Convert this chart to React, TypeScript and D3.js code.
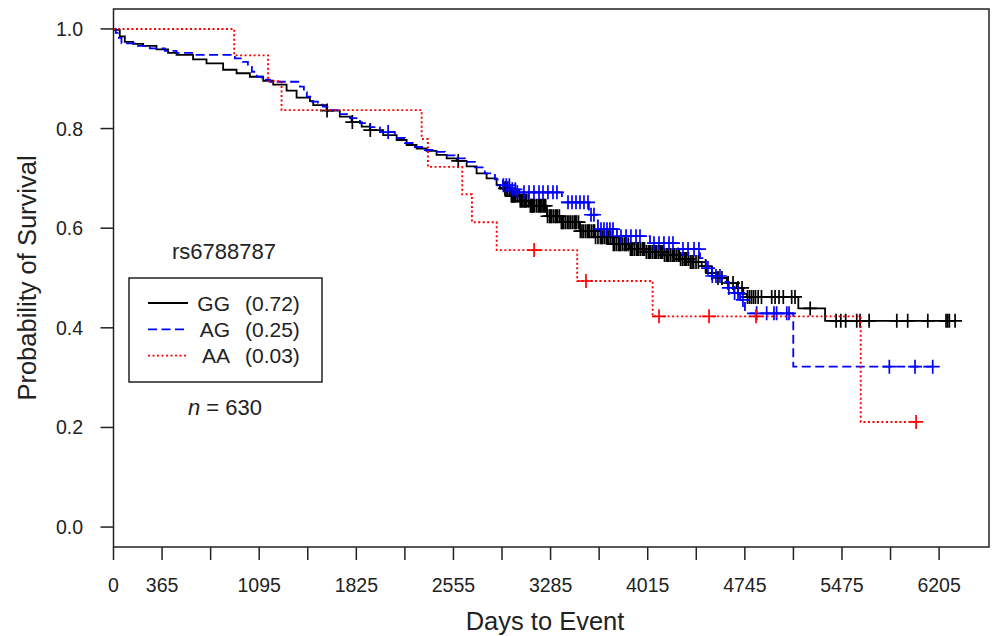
import React from 'react';
import * as d3 from 'd3';

const groups = ['GG', 'AG', 'AA'];
const freqs = ['(0.72)', '(0.25)', '(0.03)'];
const snpName = 'rs6788787';
const sampleSize = 630;

const yTicks = [0, 0.2, 0.4, 0.6, 0.8, 1.0];
const xTicks = [0, 365, 730, 1095, 1460, 1825, 2190, 2555, 2920, 3285, 3650, 4015, 4380, 4745, 5110, 5475, 5840, 6205];
const xTickLabels = [0, 365, 1095, 1825, 2555, 3285, 4015, 4745, 5475, 6205];

// [days, survival] after each drop
const ggSteps: [number, number][] = [
  [0, 1], [10, 0.998], [47, 0.985], [85, 0.974], [147, 0.970], [223, 0.966], [323, 0.959], [410, 0.952],
  [474, 0.948], [598, 0.939], [699, 0.931], [824, 0.918], [925, 0.911], [1025, 0.904], [1125, 0.896],
  [1200, 0.888], [1301, 0.876], [1376, 0.862], [1476, 0.855], [1501, 0.847], [1601, 0.836], [1701, 0.824],
  [1789, 0.813], [1865, 0.804], [1927, 0.797], [2027, 0.787], [2128, 0.777], [2203, 0.767], [2278, 0.760],
  [2353, 0.755], [2428, 0.747], [2504, 0.740], [2579, 0.735], [2654, 0.724], [2729, 0.710], [2804, 0.700],
  [2879, 0.687], [2904, 0.680], [2979, 0.665], [3055, 0.655], [3130, 0.645], [3258, 0.624], [3355, 0.612],
  [3506, 0.594], [3618, 0.582], [3754, 0.568], [3882, 0.558], [3994, 0.552], [4130, 0.546], [4258, 0.538],
  [4333, 0.532], [4421, 0.524], [4458, 0.510], [4533, 0.500], [4609, 0.490], [4684, 0.480], [4733, 0.468],
  [4761, 0.462], [5147, 0.439], [5348, 0.414],
];
const ggCensor = [
  1605, 1795, 1930, 2591,
  2942, 2950, 2961, 2975, 2990, 2997, 3004, 3013, 3021, 3035, 3049, 3057, 3066, 3077, 3088, 3096, 3104, 3118,
  3133, 3140, 3147, 3155, 3163, 3178, 3192, 3201, 3210, 3220, 3231, 3240, 3248, 3262, 3277, 3284, 3291, 3305,
  3320, 3328, 3337, 3351, 3366, 3374, 3382, 3396, 3411, 3423, 3436, 3450, 3464, 3472, 3480, 3495, 3509, 3521,
  3533, 3548, 3562, 3570, 3578, 3593, 3607, 3615, 3623, 3641, 3659, 3667, 3676, 3690, 3704, 3713, 3721, 3735,
  3749, 3757, 3766, 3780, 3795, 3803, 3811, 3825, 3840, 3848, 3856, 3870, 3885, 3893, 3901, 3915, 3930, 3938,
  3946, 3960, 3975, 3983, 3991, 4005, 4020, 4028, 4036, 4050, 4065, 4073, 4082, 4096, 4110, 4118, 4127, 4141,
  4155, 4163, 4172, 4186, 4200, 4208, 4217, 4231, 4245, 4253, 4262, 4276, 4290, 4298, 4307, 4321, 4336, 4348,
  4360, 4378, 4396,
  4450, 4498, 4543, 4573, 4619, 4656, 4694, 4724, 4765, 4780, 4795, 4810, 4825, 4845, 4870, 4947, 4972, 5002,
  5034, 5097, 5122, 5236, 5431, 5466, 5503, 5586, 5611, 5679, 5887, 5969, 6120, 6257, 6270, 6282, 6325,
];

const agSteps: [number, number][] = [
  [0, 1], [17, 0.992], [40, 0.982], [60, 0.971], [160, 0.966], [273, 0.961], [386, 0.956], [474, 0.952],
  [611, 0.948], [912, 0.941], [972, 0.934], [1010, 0.924], [1040, 0.914], [1077, 0.904], [1115, 0.898],
  [1175, 0.894], [1401, 0.884], [1431, 0.873], [1453, 0.864], [1491, 0.854], [1536, 0.848], [1573, 0.844],
  [1626, 0.837], [1701, 0.829], [1777, 0.821], [1852, 0.811], [1927, 0.803], [2002, 0.793], [2115, 0.781],
  [2190, 0.771], [2265, 0.763], [2340, 0.757], [2416, 0.753], [2491, 0.746], [2566, 0.740], [2641, 0.733],
  [2716, 0.722], [2791, 0.710], [2867, 0.698], [2927, 0.686], [2979, 0.678], [3032, 0.672], [3370, 0.652],
  [3573, 0.627], [3641, 0.598], [3784, 0.584], [4032, 0.570], [4243, 0.558], [4408, 0.540], [4453, 0.520],
  [4498, 0.504], [4573, 0.492], [4619, 0.480], [4664, 0.470], [4709, 0.456], [4746, 0.429], [5109, 0.322],
];
const agCensor = [
  2064, 2930, 2952, 2975, 2997, 3020, 3035, 3085, 3123, 3160, 3198, 3228, 3265, 3303, 3333, 3416, 3446, 3476,
  3506, 3536, 3566, 3589, 3611, 3664, 3686, 3709, 3731, 3754, 3814, 3852, 3889, 3927, 3957, 4062, 4100, 4137,
  4175, 4205, 4280, 4318, 4363, 4400, 4468, 4500, 4528, 4558, 4625, 4668, 4694, 4731, 4834, 4909, 4964, 4984,
  5060, 5077, 5831, 6024, 6157,
];

const aaSteps: [number, number][] = [
  [0, 1], [907, 0.947], [1162, 0.895], [1263, 0.837], [2316, 0.779], [2363, 0.723], [2621, 0.668],
  [2694, 0.612], [2880, 0.556], [3485, 0.494], [4052, 0.423], [5616, 0.211],
];
const aaCensor = [3161, 3551, 4100, 4476, 4829, 6032];

const W = 992;
const H = 636;
const left = 113.5;
const right = 989;
const top = 9;
const bottom = 547;

const x = d3.scaleLinear().domain([0, 6580]).range([left, right]);
const y = d3.scaleLinear().domain([-0.04, 1.04]).range([bottom, top]);

const FONT = '"Liberation Sans", Arial, Helvetica, sans-serif';

const series = [
  { steps: ggSteps, censor: ggCensor, color: '#000000', dash: undefined as string | undefined, width: 1.8 },
  { steps: agSteps, censor: agCensor, color: '#0000ff', dash: '9,4.5', width: 1.8 },
  { steps: aaSteps, censor: aaCensor, color: '#ff0000', dash: '2,2.5', width: 1.9 },
];

function survAt(steps: [number, number][], t: number) {
  let s = 1;
  for (const [tt, v] of steps) if (tt <= t) s = v;
  return s;
}

const line = d3
  .line<[number, number]>()
  .x((d) => x(d[0]))
  .y((d) => y(d[1]))
  .curve(d3.curveStepAfter);

export default function App() {
  const arm = 7;
  return (
    <svg width={W} height={H} style={{ position: 'absolute', left: 0, top: 0, background: '#fff' }} fontFamily={FONT}>
      <rect x={0} y={0} width={W} height={H} fill="#fff" />
      {series.map((s, i) => {
        const end = Math.max(...s.censor);
        const last = s.steps[s.steps.length - 1][1];
        const pts: [number, number][] = [...s.steps, [end, last]];
        return (
          <g key={i}>
            <path d={line(pts) || ''} fill="none" stroke={s.color} strokeWidth={s.width} strokeDasharray={s.dash} />
            {s.censor.map((t, j) => {
              const cx = x(t);
              const cy = y(survAt(s.steps, t));
              return (
                <path
                  key={j}
                  d={`M${cx - arm},${cy}H${cx + arm}M${cx},${cy - arm}V${cy + arm}`}
                  stroke={s.color}
                  strokeWidth={1.7}
                  fill="none"
                />
              );
            })}
          </g>
        );
      })}
      {/* box */}
      <rect x={left} y={top} width={right - left} height={bottom - top} fill="none" stroke="#222" strokeWidth={1.5} />
      {/* y axis */}
      {yTicks.map((v) => (
        <g key={v}>
          <line x1={left - 13} x2={left} y1={y(v)} y2={y(v)} stroke="#222" strokeWidth={1.5} />
          <text x={83} y={y(v)} dy="0.36em" textAnchor="end" fontSize={19.5} fill="#222">
            {v.toFixed(1)}
          </text>
        </g>
      ))}
      {/* x axis */}
      {xTicks.map((v) => (
        <line key={v} x1={x(v)} x2={x(v)} y1={bottom} y2={bottom + 13} stroke="#222" strokeWidth={1.5} />
      ))}
      {xTickLabels.map((v) => (
        <text key={v} x={x(v)} y={592} textAnchor="middle" fontSize={19.5} fill="#222">
          {v}
        </text>
      ))}
      <text x={545} y={630} textAnchor="middle" fontSize={25.5} fill="#222">
        Days to Event
      </text>
      <text
        transform={`translate(27,${(top + bottom) / 2}) rotate(-90)`}
        textAnchor="middle"
        dominantBaseline="central"
        fontSize={25.5}
        fill="#222"
      >
        Probability of Survival
      </text>
      {/* legend */}
      <text x={224} y={259} textAnchor="middle" fontSize={22} fill="#222">
        {snpName}
      </text>
      <rect x={129} y={278} width={193} height={104} fill="#fff" stroke="#222" strokeWidth={1.5} />
      {groups.map((g, i) => {
        const ly = 303 + i * 26.3;
        const s = series[i];
        return (
          <g key={g}>
            <line x1={148} x2={188} y1={ly} y2={ly} stroke={s.color} strokeWidth={s.width} strokeDasharray={s.dash} />
            <text x={230} y={ly} dy="0.36em" textAnchor="end" fontSize={21} fill="#222">
              {g}
            </text>
            <text x={245} y={ly} dy="0.36em" textAnchor="start" fontSize={21} fill="#222">
              {freqs[i]}
            </text>
          </g>
        );
      })}
      <text x={225} y={407} dy="0.36em" textAnchor="middle" fontSize={22} fill="#222">
        <tspan fontStyle="italic">n</tspan> = {sampleSize}
      </text>
    </svg>
  );
}
